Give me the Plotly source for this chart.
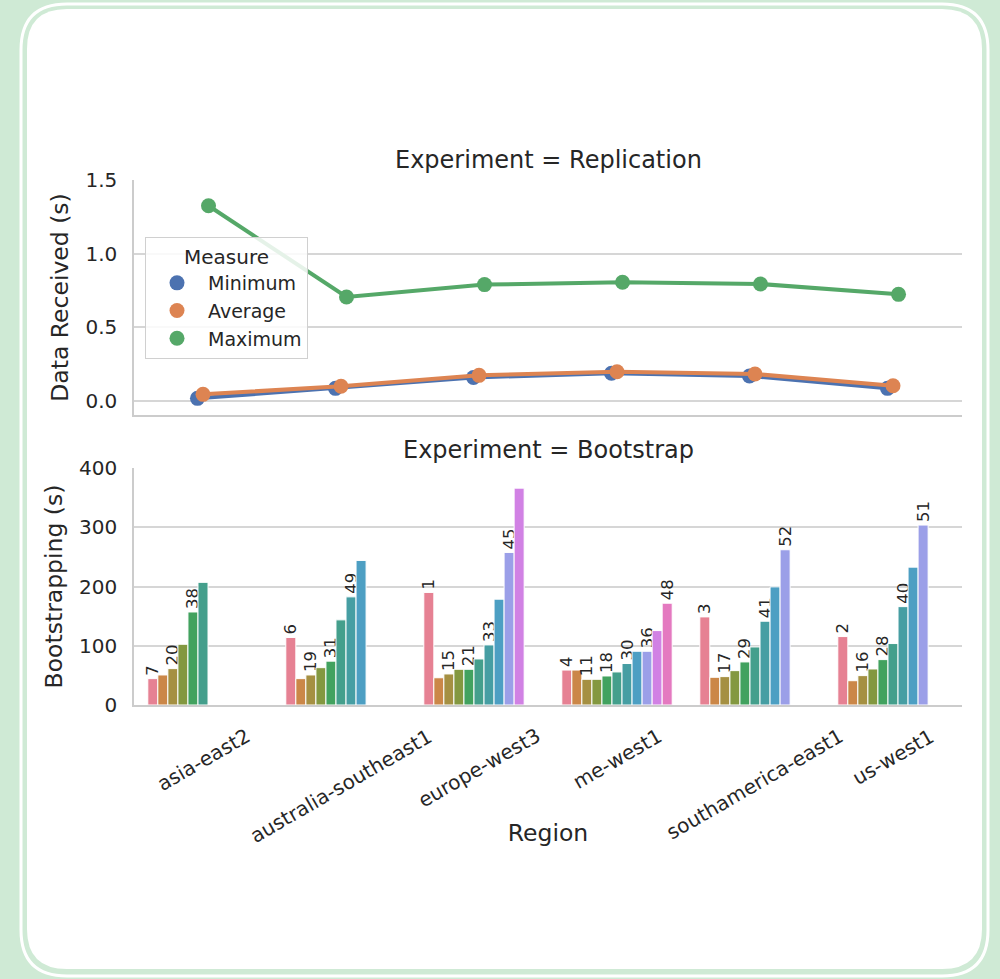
import math
import colorsys
import plotly.graph_objects as go

# ---------------- data ----------------
regions = ["asia-east2", "australia-southeast1", "europe-west3",
           "me-west1", "southamerica-east1", "us-west1"]

measures = ["Minimum", "Average", "Maximum"]
replication_minimum = [0.018, 0.086, 0.160, 0.188, 0.170, 0.086]
replication_average = [0.045, 0.100, 0.174, 0.199, 0.183, 0.104]
replication_maximum = [1.325, 0.706, 0.790, 0.806, 0.794, 0.724]

boot_asia_east2 = [44.5, 50.7, 61.4, 102.5, 157, 207]
boot_australia_southeast1 = [114, 44.5, 50.7, 63, 74, 143.7, 182.5, 244]
boot_europe_west3 = [190, 46, 52.4, 60.3, 60.3, 77.7, 101.4, 178.6, 257.5, 366]
boot_me_west1 = [59, 59, 43.4, 43.4, 49, 55.8, 70, 90.7, 90.7, 125.6, 171.8]
boot_southamerica_east1 = [148.7, 46.8, 47.9, 58, 72.7, 98, 141.4, 199.4, 262]
boot_us_west1 = [115.5, 41, 49.6, 60.8, 76.6, 103.7, 166, 232.7, 303.7]

label_asia_east2 = ["7", "", "20", "", "38", ""]
label_australia_southeast1 = ["6", "", "19", "", "31", "", "49", ""]
label_europe_west3 = ["1", "", "15", "", "21", "", "33", "", "45", ""]
label_me_west1 = ["4", "", "11", "", "18", "", "30", "", "36", "", "48"]
label_southamerica_east1 = ["3", "", "17", "", "29", "", "41", "", "52"]
label_us_west1 = ["2", "", "16", "", "28", "", "40", "", "51"]

boot_values = [boot_asia_east2, boot_australia_southeast1, boot_europe_west3,
               boot_me_west1, boot_southamerica_east1, boot_us_west1]
boot_labels = [label_asia_east2, label_australia_southeast1, label_europe_west3,
               label_me_west1, label_southamerica_east1, label_us_west1]
n_hue = max(len(v) for v in boot_values)

y_ticks_top = [0.0, 0.5, 1.0, 1.5]
y_ticks_bottom = [0, 100, 200, 300, 400]

# ---------------- colours (seaborn husl palette, desaturated like barplot) ----------------
_m = [[3.2406, -1.5372, -0.4986], [-0.9689, 1.8758, 0.0415], [0.0557, -0.2040, 1.0570]]
_refU, _refV = 0.19784, 0.46834
_lab_e, _lab_k = 0.008856, 903.3


def _max_chroma(L, H):
    hrad = math.radians(H)
    sinH, cosH = math.sin(hrad), math.cos(hrad)
    sub1 = (L + 16) ** 3 / 1560896.0
    sub2 = sub1 if sub1 > 0.008856 else L / 903.3
    result = float("inf")
    for m1, m2, m3 in _m:
        top = (0.99915 * m1 + 1.05122 * m2 + 1.14460 * m3) * sub2
        rbottom = 0.86330 * m3 - 0.17266 * m2
        lbottom = 0.12949 * m3 - 0.38848 * m1
        bottom = (rbottom * sinH + lbottom * cosH) * sub2
        for t in (0.0, 1.0):
            C = L * (top - 1.05122 * t) / (bottom + 0.17266 * sinH * t)
            if 0 < C < result:
                result = C
    return result


def _husl_to_rgb(h, s, l):
    C = _max_chroma(l, h) / 100.0 * s
    hrad = math.radians(h)
    U, V = math.cos(hrad) * C, math.sin(hrad) * C
    t = (l + 16.0) / 116.0
    varY = t ** 3 if t ** 3 > _lab_e else (116 * t - 16) / _lab_k
    varU = U / (13.0 * l) + _refU
    varV = V / (13.0 * l) + _refV
    Y = varY
    X = -(9.0 * Y * varU) / ((varU - 4.0) * varV - varU * varV)
    Z = (9.0 * Y - 15.0 * varV * Y - varV * X) / (3.0 * varV)
    out = []
    for row in _m:
        c = row[0] * X + row[1] * Y + row[2] * Z
        c = 12.92 * c if c <= 0.0031308 else 1.055 * c ** (1 / 2.4) - 0.055
        out.append(min(1.0, max(0.0, c)))
    return out


def _desat(rgb, prop):
    h, l, s = colorsys.rgb_to_hls(*rgb)
    return colorsys.hls_to_rgb(h, l, s * prop)


def _hex(rgb):
    return "#%02x%02x%02x" % tuple(int(round(c * 255)) for c in rgb)


bar_colors = []
for i in range(n_hue):
    hue = ((i / n_hue) + 0.01) % 1 * 359
    bar_colors.append(_hex(_desat(_husl_to_rgb(hue, 0.9 * 99, 0.65 * 99), 0.75)))

measure_colors = ["#4c72b0", "#dd8452", "#55a868"]

# ---------------- figure ----------------
W, H = 1000, 979
TXT = "#262626"
GRID = "#d6d6d6"
FONT = "DejaVu Sans"


def px_x(x):
    return x / W


def px_y(y):
    return 1 - y / H


fig = go.Figure()

# top panel: point plot (dodged)
dodge = [-0.04, 0.0, 0.04]
series = [replication_minimum, replication_average, replication_maximum]
for k, (name, vals) in enumerate(zip(measures, series)):
    fig.add_trace(go.Scatter(
        x=[i + dodge[k] for i in range(len(regions))], y=vals,
        mode="lines+markers", name=name, showlegend=False,
        line=dict(color=measure_colors[k], width=4),
        marker=dict(color=measure_colors[k], size=15),
        xaxis="x", yaxis="y", cliponaxis=False,
    ))
for k, name in enumerate(measures):
    fig.add_trace(go.Scatter(
        x=[None], y=[None], mode="markers", name=name,
        marker=dict(color=measure_colors[k], size=15),
        xaxis="x", yaxis="y",
    ))

# bottom panel: grouped bars, one trace per hue level
for j in range(n_hue):
    xs, ys, ts = [], [], []
    for r, vals, labs in zip(regions, boot_values, boot_labels):
        if j < len(vals):
            xs.append(r)
            ys.append(vals[j])
            ts.append(labs[j])
    fig.add_trace(go.Bar(
        x=xs, y=ys, text=ts, textposition="outside", textangle=-90,
        constraintext="none", cliponaxis=False,
        textfont=dict(size=16.5, color=TXT, family=FONT),
        marker=dict(color=bar_colors[j], line=dict(color="white", width=1)),
        showlegend=False, xaxis="x2", yaxis="y2", offsetgroup=str(j),
    ))

x_dom = [px_x(134), px_x(962)]
top_dom = [px_y(415), px_y(180)]
bot_dom = [px_y(705), px_y(468)]


def rrect(x0, y0, x1, y1, r):
    return (f"M {px_x(x0+r)},{px_y(y0)} L {px_x(x1-r)},{px_y(y0)} "
            f"Q {px_x(x1)},{px_y(y0)} {px_x(x1)},{px_y(y0+r)} "
            f"L {px_x(x1)},{px_y(y1-r)} Q {px_x(x1)},{px_y(y1)} {px_x(x1-r)},{px_y(y1)} "
            f"L {px_x(x0+r)},{px_y(y1)} Q {px_x(x0)},{px_y(y1)} {px_x(x0)},{px_y(y1-r)} "
            f"L {px_x(x0)},{px_y(y0+r)} Q {px_x(x0)},{px_y(y0)} {px_x(x0+r)},{px_y(y0)} Z")


shapes = [
    dict(type="path", xref="paper", yref="paper", path=rrect(21, 4, 988, 976, 46),
         line=dict(color="white", width=3), fillcolor="rgba(0,0,0,0)", layer="below"),
    dict(type="path", xref="paper", yref="paper", path=rrect(27, 9, 982, 969, 40),
         line=dict(color="white", width=0), fillcolor="white", layer="below"),
]

annotations = [
    dict(text="Experiment = Replication", x=(x_dom[0] + x_dom[1]) / 2, y=px_y(160),
         xref="paper", yref="paper", showarrow=False, xanchor="center", yanchor="middle",
         font=dict(size=24, color=TXT, family=FONT)),
    dict(text="Experiment = Bootstrap", x=(x_dom[0] + x_dom[1]) / 2, y=px_y(450),
         xref="paper", yref="paper", showarrow=False, xanchor="center", yanchor="middle",
         font=dict(size=24, color=TXT, family=FONT)),
]
for r in regions:
    annotations.append(dict(
        text=r, x=r, xref="x2", y=px_y(721), yref="paper", showarrow=False,
        textangle=-30, xanchor="center", yanchor="top",
        font=dict(size=20, color=TXT, family=FONT)))

fig.update_layout(
    width=W, height=H, margin=dict(l=0, r=0, t=0, b=0, autoexpand=False),
    paper_bgcolor="#cfead5", plot_bgcolor="white",
    font=dict(family=FONT, color=TXT),
    barmode="group", bargap=0.2, bargroupgap=0,
    shapes=shapes, annotations=annotations,
    xaxis=dict(domain=x_dom, anchor="y", range=[-0.5, len(regions) - 0.5],
               showticklabels=False, showgrid=False, zeroline=False, ticks="",
               showline=True, linecolor="#cccccc", linewidth=1.5, automargin=False),
    yaxis=dict(domain=top_dom, anchor="x", range=[-0.095, 1.5], tickvals=y_ticks_top,
               tickformat=".1f", showgrid=True, gridcolor=GRID, gridwidth=1.5,
               zeroline=False, showline=True, linecolor="#cccccc", linewidth=1.5,
               ticks="outside", ticklen=11, tickcolor="rgba(0,0,0,0)",
               tickfont=dict(size=20, color=TXT), automargin=False,
               title=dict(text="Data Received (s)", font=dict(size=23.5, color=TXT), standoff=10)),
    xaxis2=dict(domain=x_dom, anchor="y2", type="category", categoryorder="array",
                categoryarray=regions, range=[-0.5, len(regions) - 0.5],
                showticklabels=False, showgrid=False, zeroline=False, ticks="",
                showline=True, linecolor="#cccccc", linewidth=1.5, automargin=False,
                title=dict(text="Region", font=dict(size=23.5, color=TXT), standoff=119)),
    yaxis2=dict(domain=bot_dom, anchor="x2", range=[0, 400], tickvals=y_ticks_bottom,
                showgrid=True, gridcolor=GRID, gridwidth=1.5,
                zeroline=False, showline=True, linecolor="#cccccc", linewidth=1.5,
                ticks="outside", ticklen=11, tickcolor="rgba(0,0,0,0)",
                tickfont=dict(size=20, color=TXT), automargin=False,
                title=dict(text="Bootstrapping (s)", font=dict(size=23.5, color=TXT), standoff=10)),
    legend=dict(x=px_x(145), y=px_y(237), xanchor="left", yanchor="top",
                bgcolor="rgba(255,255,255,0.85)", bordercolor="#d0d0d0", borderwidth=1,
                font=dict(size=19, color=TXT), itemwidth=52,
                title=dict(text="Measure", side="top center", font=dict(size=20, color=TXT)),
                itemsizing="trace"),
)

fig.write_html("out.html", config={"displayModeBar": False},
               post_script="document.body.style.margin='0';document.body.style.overflow='hidden';")
